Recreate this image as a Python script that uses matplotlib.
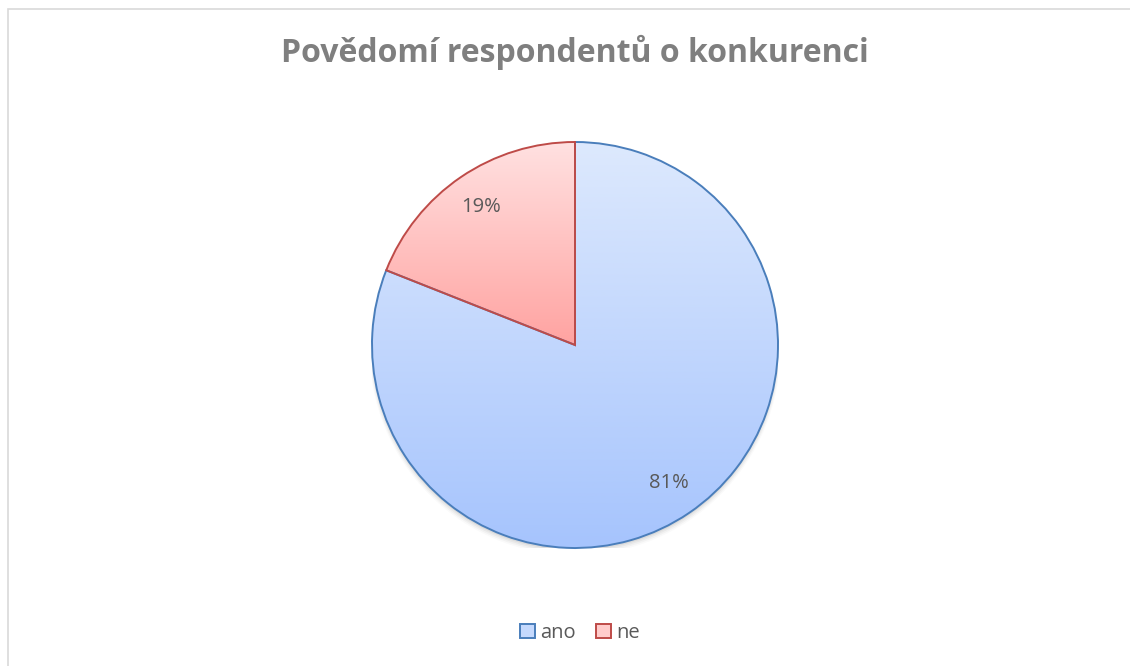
import numpy as np
import matplotlib
matplotlib.use("Agg")
import matplotlib.pyplot as plt
from matplotlib.patches import Patch, Rectangle, Circle
from matplotlib.colors import to_rgb

categories = ["ano", "ne"]
values = [81, 19]
title = "Povědomí respondentů o konkurenci"

top_colors = ["#dde9fd", "#ffe1e1"]
bottom_colors = ["#a6c4fd", "#ffa3a1"]
edge_colors = ["#4a7ebb", "#be4b48"]

W, H = 1130, 666
fig = plt.figure(figsize=(W / 100, H / 100), dpi=100)
fig.patch.set_facecolor("white")

# border
fig.add_artist(Rectangle((8 / W, -0.1), 1.2, 1 - 9 / H + 0.1, transform=fig.transFigure,
                         fill=False, edgecolor="#d9d9d9", linewidth=1.2))

cx, cy, R = 575, 345, 203
ax = fig.add_axes([(cx - R) / W, (H - cy - R) / H, 2 * R / W, 2 * R / H])
ax.set_xlim(-1, 1)
ax.set_ylim(-1, 1)
ax.axis("off")

# subtle shadow
for i, a in enumerate([0.05, 0.04, 0.03, 0.02]):
    ax.add_patch(Circle((0, -0.012 - i * 0.004), 1.0 + i * 0.004, facecolor="black",
                        edgecolor="none", alpha=a, zorder=0))

wedges, texts, autotexts = ax.pie(
    values, startangle=90, counterclock=False, radius=1,
    autopct=lambda p: f"{p:.0f}%", pctdistance=0.82,
    wedgeprops=dict(linewidth=1.4, facecolor="none"),
    textprops=dict(color="#595959", fontsize=14.5, family="Open Sans"),
)
ax.set_xlim(-1, 1)
ax.set_ylim(-1, 1)

for w, tc, bc, ec in zip(wedges, top_colors, bottom_colors, edge_colors):
    w.set_edgecolor(ec)
    w.set_zorder(3)
    ext = w.get_patch_transform().transform_path(w.get_path()).get_extents()
    t = np.linspace(0, 1, 256)[:, None]
    c0 = np.array(to_rgb(bc)); c1 = np.array(to_rgb(tc))
    arr = (c0[None, :] * (1 - t) + c1[None, :] * t)[:, None, :]
    im = ax.imshow(arr, extent=(ext.x0, ext.x1, ext.y0, ext.y1), origin="lower",
                   aspect="auto", zorder=2, interpolation="bilinear")
    im.set_clip_path(w)
for t in autotexts:
    t.set_zorder(5)
ax.set_xlim(-1, 1)
ax.set_ylim(-1, 1)

fig.text(575 / W, 1 - 52 / H, title, ha="center", va="center", fontsize=23,
         fontweight="bold", color="#7f7f7f", family="Open Sans")

handles = [Patch(facecolor=tc, edgecolor=ec, linewidth=1.4) for tc, ec in zip(["#c5d9fd", "#ffcccb"], edge_colors)]
leg = fig.legend(handles, categories, loc="center", bbox_to_anchor=(580 / W, 1 - 633 / H), ncol=2,
                 frameon=False, handlelength=0.75, handleheight=0.75,
                 handletextpad=0.25, columnspacing=1.0,
                 prop=dict(family="Open Sans", size=14.5))
for t in leg.get_texts():
    t.set_color("#595959")

fig.savefig("out.png", dpi=100, facecolor="white")
